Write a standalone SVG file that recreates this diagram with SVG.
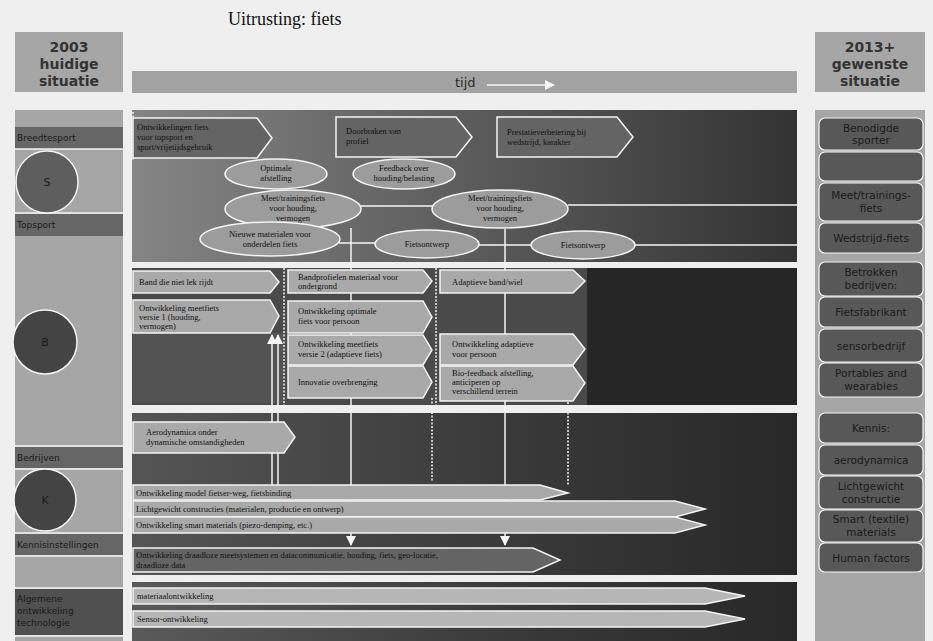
<svg xmlns="http://www.w3.org/2000/svg" width="933" height="641" viewBox="0 0 933 641">
<defs>
<style>
.hd{font-family:"DejaVu Sans","Verdana",sans-serif;font-size:14px;font-weight:bold;fill:#333;text-anchor:middle}
.lc{font-family:"DejaVu Sans",sans-serif;font-size:9px;fill:#1a1a1a}
.rc{font-family:"DejaVu Sans",sans-serif;font-size:10.5px;fill:#1a1a1a;text-anchor:middle}
.t{font-family:"Liberation Serif","Times New Roman",serif;font-size:8.5px;fill:#111}
.tc{font-family:"Liberation Serif","Times New Roman",serif;font-size:8.5px;fill:#111;text-anchor:middle}
.wl{stroke:#f4f4f4;stroke-width:1.5;fill:none}
.dl{stroke:#f4f4f4;stroke-width:1.5;fill:none;stroke-dasharray:2 1.5}
.pd{fill:#646464;stroke:#f4f4f4;stroke-width:1.5}
.pl{fill:#a9a9a9;stroke:#f4f4f4;stroke-width:1.5}
.pv{fill:#b6b6b6;stroke:#f4f4f4;stroke-width:1.5}
.el{fill:#9c9c9c;stroke:#f4f4f4;stroke-width:1.5}
.rb{fill:#585858;stroke:#f4f4f4;stroke-width:1.2}
.lb{fill:#666}
</style>
<linearGradient id="g1" x1="0" x2="1" y1="0" y2="0"><stop offset="0" stop-color="#858585"/><stop offset="0.55" stop-color="#585858"/><stop offset="1" stop-color="#333"/></linearGradient>
<linearGradient id="g3" x1="0" x2="1" y1="0" y2="0"><stop offset="0" stop-color="#555"/><stop offset="0.6" stop-color="#383838"/><stop offset="1" stop-color="#282828"/></linearGradient>
<linearGradient id="g4" x1="0" x2="1" y1="0" y2="0"><stop offset="0" stop-color="#5a5a5a"/><stop offset="0.6" stop-color="#383838"/><stop offset="1" stop-color="#282828"/></linearGradient>
<marker id="ah" viewBox="0 0 10 10" refX="9" refY="5" markerWidth="7" markerHeight="7" orient="auto"><path d="M0,0 L10,5 L0,10 z" fill="#f4f4f4"/></marker>
</defs>
<rect width="933" height="641" fill="#efefef"/>
<text x="228" y="25" font-family="Liberation Serif,serif" font-size="18" fill="#111">Uitrusting: fiets</text>

<g id="hdr-left"><rect x="15" y="32" width="108" height="60" fill="#a6a6a6"/><text class="hd" x="69" y="52">2003</text><text class="hd" x="69" y="69">huidige</text><text class="hd" x="69" y="86">situatie</text></g>
<g id="hdr-right"><rect x="815" y="32" width="110" height="60" fill="#a6a6a6"/><text class="hd" x="870" y="52">2013+</text><text class="hd" x="870" y="69">gewenste</text><text class="hd" x="870" y="86">situatie</text></g>
<g id="timebar"><rect x="132" y="71" width="665" height="22" fill="#a2a2a2"/><text x="455" y="87" font-family="DejaVu Sans,sans-serif" font-size="13" fill="#2a2a2a">tijd</text><line x1="487" y1="85" x2="554" y2="85" stroke="#f4f4f4" stroke-width="1.5" marker-end="url(#ah)"/></g>

<g id="left-col">
<rect x="15" y="110" width="108" height="531" fill="#a6a6a6"/>
<rect class="lb" x="15" y="127" width="108" height="22"/><text class="lc" x="17" y="141">Breedtesport</text>
<line class="wl" x1="15" y1="149" x2="123" y2="149"/>
<line class="wl" x1="15" y1="213" x2="123" y2="213"/>
<rect class="lb" x="15" y="214" width="108" height="22"/><text class="lc" x="17" y="228">Topsport</text>
<circle cx="47" cy="182" r="31" fill="#5e5e5e" stroke="#f4f4f4" stroke-width="1.5"/><text x="47" y="186" font-family="DejaVu Sans,sans-serif" font-size="11" fill="#1a1a1a" text-anchor="middle">S</text>
<circle cx="45" cy="342" r="32" fill="#444" stroke="#f4f4f4" stroke-width="1.5"/><text x="45" y="346" font-family="DejaVu Sans,sans-serif" font-size="11" fill="#1a1a1a" text-anchor="middle">B</text>
<line class="wl" x1="15" y1="446" x2="123" y2="446"/>
<rect class="lb" x="15" y="447" width="108" height="21"/><text class="lc" x="17" y="461">Bedrijven</text>
<line class="wl" x1="15" y1="469" x2="123" y2="469"/>
<circle cx="45" cy="500" r="31" fill="#444" stroke="#f4f4f4" stroke-width="1.5"/><text x="45" y="504" font-family="DejaVu Sans,sans-serif" font-size="11" fill="#1a1a1a" text-anchor="middle">K</text>
<line class="wl" x1="15" y1="533" x2="123" y2="533"/>
<rect class="lb" x="15" y="534" width="108" height="21"/><text class="lc" x="17" y="548">Kennisinstellingen</text>
<line class="wl" x1="15" y1="556" x2="123" y2="556"/>
<line class="wl" x1="15" y1="588" x2="123" y2="588"/>
<rect x="15" y="589" width="108" height="46" fill="#505050"/><text class="lc" x="17" y="602">Algemene</text><text class="lc" x="17" y="614">ontwikkeling</text><text class="lc" x="17" y="626">technologie</text>
<line class="wl" x1="15" y1="636" x2="123" y2="636"/>
</g>

<g id="right-col">
<rect x="815" y="110" width="110" height="531" fill="#a6a6a6"/>
<g id="r1"><rect class="rb" x="819" y="118" width="104" height="32" rx="6"/><text class="rc" x="871" y="132">Benodigde</text><text class="rc" x="871" y="144">sporter</text></g>
<g id="r2"><rect class="rb" x="819" y="152" width="104" height="29" rx="6"/></g>
<g id="r3"><rect class="rb" x="819" y="183" width="104" height="38" rx="6"/><text class="rc" x="871" y="199">Meet/trainings-</text><text class="rc" x="871" y="212">fiets</text></g>
<g id="r4"><rect class="rb" x="819" y="223" width="104" height="30" rx="6"/><text class="rc" x="871" y="242">Wedstrijd-fiets</text></g>
<g id="r5"><rect class="rb" x="819" y="262" width="104" height="34" rx="6"/><text class="rc" x="871" y="276">Betrokken</text><text class="rc" x="871" y="289">bedrijven:</text></g>
<g id="r6"><rect class="rb" x="819" y="297" width="104" height="30" rx="6"/><text class="rc" x="871" y="316">Fietsfabrikant</text></g>
<g id="r7"><rect class="rb" x="819" y="329" width="104" height="33" rx="6"/><text class="rc" x="871" y="350">sensorbedrijf</text></g>
<g id="r8"><rect class="rb" x="819" y="363" width="104" height="34" rx="6"/><text class="rc" x="871" y="377">Portables and</text><text class="rc" x="871" y="390">wearables</text></g>
<g id="r9"><rect class="rb" x="819" y="413" width="104" height="30" rx="6"/><text class="rc" x="871" y="432">Kennis:</text></g>
<g id="r10"><rect class="rb" x="819" y="445" width="104" height="30" rx="6"/><text class="rc" x="871" y="464">aerodynamica</text></g>
<g id="r11"><rect class="rb" x="819" y="476" width="104" height="33" rx="6"/><text class="rc" x="871" y="490">Lichtgewicht</text><text class="rc" x="871" y="503">constructie</text></g>
<g id="r12"><rect class="rb" x="819" y="510" width="104" height="32" rx="6"/><text class="rc" x="871" y="523">Smart (textile)</text><text class="rc" x="871" y="536">materials</text></g>
<g id="r13"><rect class="rb" x="819" y="543" width="104" height="29" rx="6"/><text class="rc" x="871" y="562">Human factors</text></g>
</g>

<g id="panel-sport">
<rect x="132" y="110" width="665" height="152" fill="url(#g1)"/>
<line class="dl" x1="133" y1="112" x2="133" y2="160"/>
</g>
<g id="panel-bedrijven">
<rect x="132" y="268" width="665" height="137" fill="#4a4a4a"/>
<rect x="133" y="333" width="150" height="70" fill="#535353"/>
<rect x="587" y="268" width="210" height="137" fill="#262626"/>
</g>
<g id="panel-kennis"><rect x="132" y="413" width="665" height="162" fill="url(#g3)"/></g>
<g id="panel-algemeen"><rect x="132" y="582" width="665" height="59" fill="url(#g4)"/></g>

<g id="connectors">
<line class="wl" x1="360" y1="206" x2="434" y2="206"/>
<line class="wl" x1="568" y1="205" x2="797" y2="205"/>
<line class="wl" x1="339" y1="243" x2="376" y2="243"/>
<line class="wl" x1="479" y1="245" x2="531" y2="245"/>
<line class="wl" x1="635" y1="245" x2="797" y2="245"/>
<line class="wl" x1="351" y1="228" x2="351" y2="545" marker-end="url(#ah)"/>
<line class="wl" x1="505" y1="229" x2="505" y2="545" marker-end="url(#ah)"/>
<line class="wl" x1="272" y1="485" x2="272" y2="335" marker-end="url(#ah)"/>
<line class="wl" x1="278" y1="485" x2="278" y2="335" marker-end="url(#ah)"/>
<line class="dl" x1="432" y1="398" x2="432" y2="482"/>
<line class="dl" x1="568" y1="402" x2="568" y2="485"/>
<line class="dl" x1="284" y1="268" x2="284" y2="405"/>
<line class="dl" x1="436" y1="268" x2="436" y2="405"/>
</g>

<g id="n-ontw-fiets"><path class="pd" d="M133,118 H257 L272,138 L257,158 H133 Z"/><text class="t" x="137" y="130">Ontwikkelingen fiets</text><text class="t" x="137" y="140">voor topsport en</text><text class="t" x="137" y="150">sport/vrijetijdsgebruik</text></g>
<g id="n-doorbraak"><path class="pd" d="M336,117 H456 L472,137 L456,157 H336 Z"/><text class="t" x="346" y="134">Doorbraken van</text><text class="t" x="346" y="144">profiel</text></g>
<g id="n-prestatie"><path class="pd" d="M497,117 H617 L633,137 L617,157 H497 Z"/><text class="t" x="507" y="135">Prestatieverbetering bij</text><text class="t" x="507" y="145">wedstrijd, karakter</text></g>

<g id="e-afstelling"><ellipse class="el" cx="276" cy="174" rx="51" ry="15"/><text class="tc" x="276" y="171">Optimale</text><text class="tc" x="276" y="181">afstelling</text></g>
<g id="e-feedback"><ellipse class="el" cx="404" cy="174" rx="51" ry="15"/><text class="tc" x="404" y="171">Feedback over</text><text class="tc" x="404" y="181">houding/belasting</text></g>
<g id="e-meet1"><ellipse class="el" cx="293" cy="209" rx="68" ry="19"/><text class="tc" x="293" y="201">Meet/trainingsfiets</text><text class="tc" x="293" y="211">voor houding,</text><text class="tc" x="293" y="221">vermogen</text></g>
<g id="e-materialen"><ellipse class="el" cx="270" cy="239" rx="70" ry="17"/><text class="tc" x="270" y="237">Nieuwe materialen voor</text><text class="tc" x="270" y="247">onderdelen fiets</text></g>
<g id="e-ontwerp1"><ellipse class="el" cx="427" cy="244" rx="52" ry="14"/><text class="tc" x="427" y="247">Fietsontwerp</text></g>
<g id="e-meet2"><ellipse class="el" cx="500" cy="209" rx="68" ry="19"/><text class="tc" x="500" y="201">Meet/trainingsfiets</text><text class="tc" x="500" y="211">voor houding,</text><text class="tc" x="500" y="221">vermogen</text></g>
<g id="e-ontwerp2"><ellipse class="el" cx="583" cy="245" rx="52" ry="14"/><text class="tc" x="583" y="248">Fietsontwerp</text></g>

<g id="n-band"><path class="pl" d="M133,271 H270 L279,282 L270,293 H133 Z"/><text class="t" x="139" y="285">Band die niet lek rijdt</text></g>
<g id="n-meet1"><path class="pl" d="M133,300 H270 L279,316 L270,333 H133 Z"/><text class="t" x="139" y="311">Ontwikkeling meetfiets</text><text class="t" x="139" y="320">versie 1 (houding,</text><text class="t" x="139" y="329">vermogen)</text></g>
<g id="n-bandprofiel"><path class="pl" d="M288,270 H423 L432,281 L423,293 H288 Z"/><text class="t" x="298" y="280">Bandprofielen materiaal voor</text><text class="t" x="298" y="289">ondergrond</text></g>
<g id="n-optimaal"><path class="pl" d="M288,301 H423 L432,317 L423,333 H288 Z"/><text class="t" x="298" y="314">Ontwikkeling optimale</text><text class="t" x="298" y="324">fiets voor persoon</text></g>
<g id="n-meet2"><path class="pl" d="M288,335 H423 L432,350 L423,365 H288 Z"/><text class="t" x="298" y="347">Ontwikkeling meetfiets</text><text class="t" x="298" y="357">versie 2 (adaptieve fiets)</text></g>
<g id="n-innovatie"><path class="pl" d="M288,366 H423 L432,382 L423,398 H288 Z"/><text class="t" x="298" y="385">Innovatie overbrenging</text></g>
<g id="n-adaptief"><path class="pl" d="M440,270 H573 L585,281 L573,293 H440 Z"/><text class="t" x="452" y="285">Adaptieve band/wiel</text></g>
<g id="n-adaptpersoon"><path class="pl" d="M440,334 H573 L585,349 L573,365 H440 Z"/><text class="t" x="452" y="347">Ontwikkeling adaptieve</text><text class="t" x="452" y="357">voor persoon</text></g>
<g id="n-bio"><path class="pl" d="M440,366 H573 L585,383 L573,401 H440 Z"/><text class="t" x="452" y="376">Bio-feedback afstelling,</text><text class="t" x="452" y="385">anticiperen op</text><text class="t" x="452" y="394">verschillend terrein</text></g>

<g id="n-aero"><path class="pl" d="M133,422 H284 L295,437 L284,453 H133 Z"/><text class="t" x="146" y="435">Aerodynamica onder</text><text class="t" x="146" y="445">dynamische omstandigheden</text></g>
<g id="n-model"><path class="pl" d="M133,485 H540 L568,493 L540,500 H133 Z"/><text class="t" x="136" y="496">Ontwikkeling model fietser-weg, fietsbinding</text></g>
<g id="n-licht"><path class="pl" d="M133,501 H675 L705,509 L675,517 H133 Z"/><text class="t" x="136" y="512">Lichtgewicht constructies (materialen, productie en ontwerp)</text></g>
<g id="n-smart"><path class="pl" d="M133,517 H675 L705,525 L675,533 H133 Z"/><text class="t" x="136" y="528">Ontwikkeling smart materials (piezo-demping, etc.)</text></g>
<g id="n-sensor"><path class="pd" d="M133,548 H533 L560,560 L533,572 H133 Z"/><text class="t" x="136" y="558">Ontwikkeling draadloze meetsystemen en datacommunicatie, houding, fiets, geo-locatie,</text><text class="t" x="136" y="568">draadloze data</text></g>

<g id="n-materiaal"><path class="pv" d="M133,588 H705 L745,596 L705,604 H133 Z"/><text class="t" x="137" y="599">materiaalontwikkeling</text></g>
<g id="n-sensorontw"><path class="pv" d="M133,611 H705 L745,619 L705,627 H133 Z"/><text class="t" x="137" y="622">Sensor-ontwikkeling</text></g>
</svg>
